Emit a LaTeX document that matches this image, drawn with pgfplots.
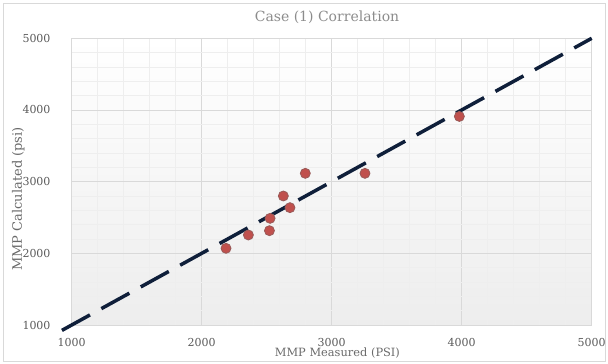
\documentclass[border=0pt]{standalone}
\usepackage{fontspec}
\setmainfont{DejaVu Serif}
\usepackage{pgfplots}
\pgfplotsset{compat=1.18}
\definecolor{ptred}{HTML}{C0504D}
\definecolor{ptedge}{HTML}{985A58}
\definecolor{linenavy}{HTML}{0F1F3A}
\definecolor{majgrid}{HTML}{D9D9D9}
\definecolor{mingrid}{HTML}{EEEEEE}
\definecolor{titlegray}{HTML}{8C8C8C}
\definecolor{labelgray}{HTML}{6A6A6A}
\definecolor{tickgray}{HTML}{595959}
\begin{document}
\begin{tikzpicture}
\begin{axis}[
  at={(71.7pt,39pt)}, anchor=south west,
  scale only axis, width=520pt, height=286.7pt,
  xmin=1000, xmax=5000, ymin=1000, ymax=5000,
  xtick={1000,2000,3000,4000,5000},
  ytick={1000,2000,3000,4000,5000},
  minor tick num=4,
  grid=both,
  major grid style={draw=majgrid, line width=0.7pt},
  minor grid style={draw=mingrid, line width=0.6pt},
  major tick length=0pt, minor tick length=0pt,
  axis line style={draw=majgrid, line width=0.7pt},
  axis background/.style={shade, top color=white, bottom color=black!7},
  /pgf/number format/assume math mode=true,
  /pgf/number format/1000 sep={},
  xticklabel style={font=\fontsize{11}{13}\selectfont, text=tickgray, anchor=center, yshift=-17pt},
  yticklabel style={font=\fontsize{11}{13}\selectfont, text=tickgray, anchor=east, inner sep=0pt, xshift=-21pt},
  title={Case (1) Correlation},
  title style={at={(axis description cs:0.491,1.0534)}, anchor=center, font=\fontsize{14}{16}\selectfont, text=titlegray},
  xlabel={MMP Measured (PSI)},
  every axis x label/.style={at={(axis description cs:0.511,-0.0977)}, anchor=center, font=\fontsize{11.4}{13}\selectfont, text=labelgray},
  ylabel={MMP Calculated (psi)},
  every axis y label/.style={at={(axis description cs:-0.1027,0.4395)}, anchor=center, rotate=90, font=\fontsize{13}{15}\selectfont, text=labelgray},
  clip=false,
]
\addplot[linenavy, line width=3.5pt, dash pattern=on 32pt off 13pt] coordinates {(925,925) (5000,5000)};
\addplot[only marks, mark=*, mark size=5pt, mark options={fill=ptred, draw=ptedge, line width=0.8pt}] coordinates {
(2187,2070)
(2359,2256)
(2521,2316)
(2526,2488)
(2628,2800)
(2679,2637)
(2797,3116)
(3256,3116)
(3982,3910)
};
\end{axis}
\draw[black!15, line width=0.8pt] (3pt,3pt) rectangle (605pt,361pt);
\pgfresetboundingbox
\useasboundingbox (0pt,0pt) rectangle (608pt,364pt);
\end{tikzpicture}
\end{document}
